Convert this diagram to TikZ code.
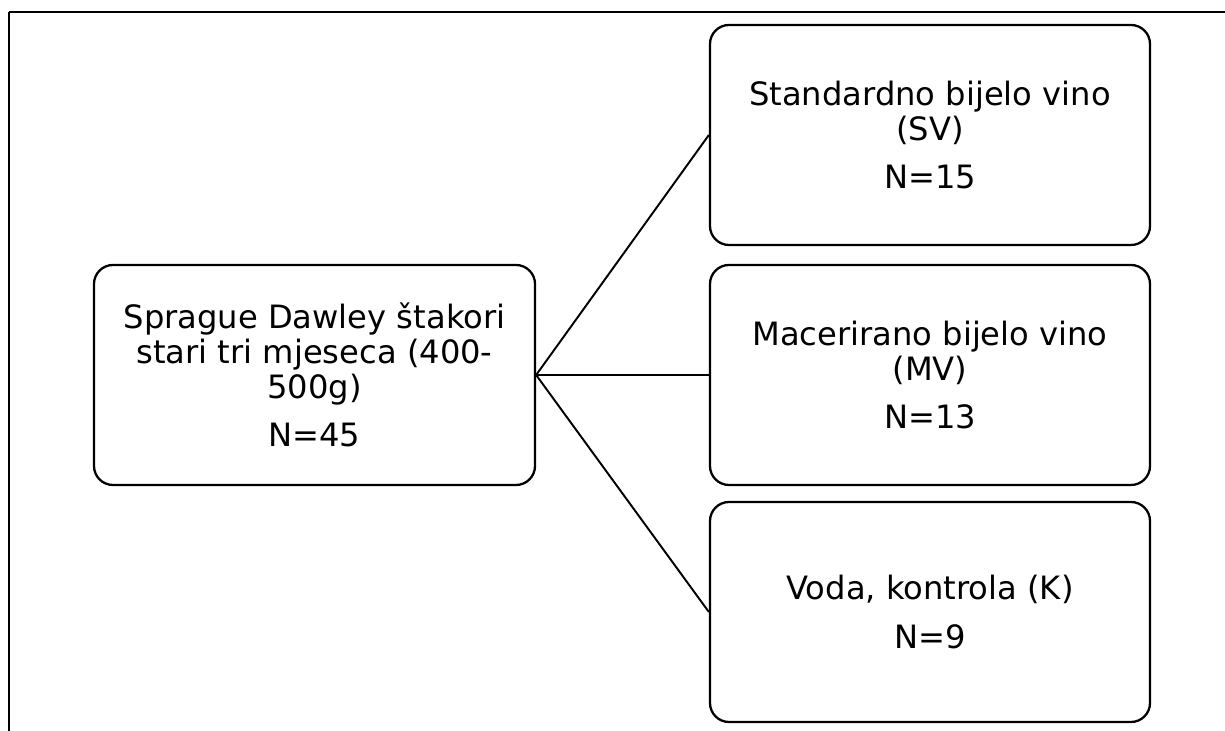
\documentclass[tikz,border=0pt]{standalone}
\usepackage{fontspec}
\setmainfont{DejaVu Sans}
\usetikzlibrary{positioning}

\begin{document}
\begin{tikzpicture}[font=\fontsize{18.3}{20}\selectfont,
    grpbox/.style={draw, line width=1.3pt, rounded corners=0.38cm, align=center,
                   minimum width=8.8cm, minimum height=4.4cm, inner sep=0pt},
    link/.style={line width=1.1pt}]
        \useasboundingbox (0,0) rectangle (24.5,-14.62);
        % frame
        \draw[line width=1pt] (0.18,-0.24) -- (24.5,-0.24);
        \draw[line width=1.5pt] (0.18,-0.24) -- (0.18,-14.62);
        \node[grpbox, minimum width=8.82cm] (rats) at (6.29,-7.5) {Sprague Dawley štakori\\stari tri mjeseca (400-\\500g)\\[0.26cm]N=45};
        \foreach \y/\nm/\txt in {-2.7/sv/{Standardno bijelo vino\\(SV)\\[0.26cm]N=15},-7.5/mv/{Macerirano bijelo vino\\(MV)\\[0.26cm]N=13},-12.24/k/{Voda, kontrola (K)\\[0.26cm]N=9}}{\node[grpbox] (\nm) at (18.6,\y) {\txt};}
        \foreach \nm in {sv,mv,k}{\draw[link] (rats.east) -- (\nm.west);}
\end{tikzpicture}
\end{document}
